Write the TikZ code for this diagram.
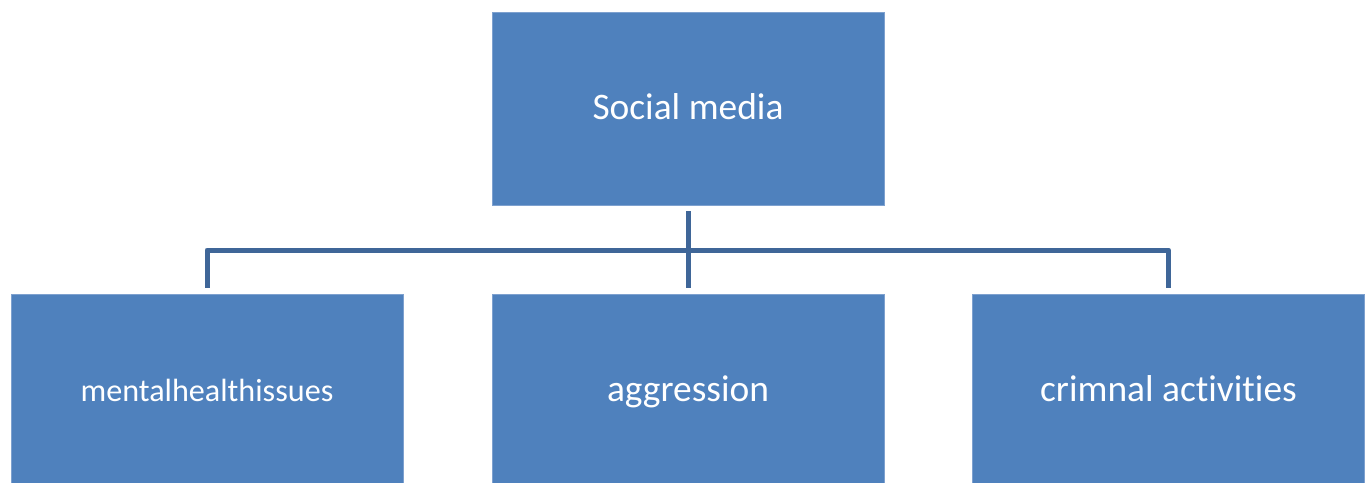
\documentclass[tikz,border=0pt]{standalone}
\usepackage{fontspec}
\setmainfont{Carlito}[Ligatures=NoCommon]
\usetikzlibrary{positioning}
\definecolor{boxblue}{HTML}{4F81BD}
\definecolor{boxedge}{HTML}{7EA1CF}
\definecolor{linkblue}{HTML}{3F6698}
\tikzset{
  box/.style={rectangle, fill=boxblue, draw=boxedge, line width=0.4pt,
    minimum width=7.84cm, minimum height=3.86cm, inner sep=0pt,
    text height=0.5cm, text depth=0.06cm,
    text=white, font=\fontsize{21.3}{25}\selectfont},
  link/.style={draw=linkblue, line width=0.1cm}
}
\begin{document}
\begin{tikzpicture}[x=0.02cm, y=-0.02cm]
      \clip (0,0) rectangle (1366,483);
      \fill[white] (0,0) rectangle (1366,483);
      % top box
      \node[box] (social) at (688,108.5) {Social media};
      % effects
      \node[box, font=\fontsize{18.3}{22}\selectfont] (mental) at (207,390.5) {mentalhealthissues};
      \node[box] (aggr) at (688,390.5) {aggression};
      \node[box] (crime) at (1168.5,390.5) {crimnal activities};
      \coordinate (hub) at (688,250);
      \path[link]
      ([yshift=-0.12cm]social.south) -- ([yshift=0.12cm]aggr.north);
      \path[link, line join=round]
      ([yshift=0.12cm]mental.north) -- (mental.north |- hub)
      -- (crime.north |- hub) -- ([yshift=0.12cm]crime.north);
    \end{tikzpicture}
\end{document}
